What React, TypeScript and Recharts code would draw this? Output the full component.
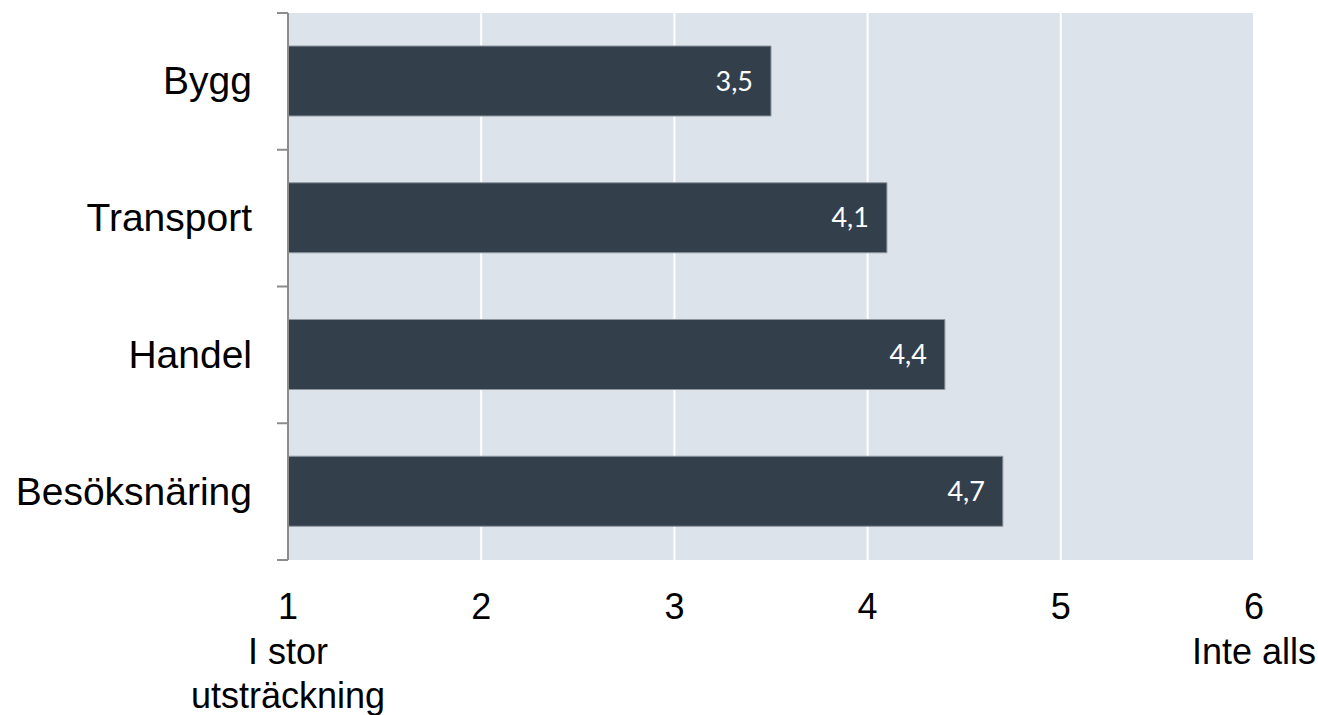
import React from "react";
import { BarChart, Bar, XAxis, YAxis, CartesianGrid, LabelList } from "recharts";

// Branscher och medelvärde (1 = I stor utsträckning, 6 = Inte alls)
const categories = ["Bygg", "Transport", "Handel", "Besöksnäring"];
const values = [3.5, 4.1, 4.4, 4.7];
const xTicks = [1, 2, 3, 4, 5, 6];
const xTickNotes: Record<number, string[]> = {
  1: ["I stor", "utsträckning"],
  6: ["Inte alls"],
};

const data = categories.map((name, i) => ({ name, value: values[i] }));

const FONT = "Arial, 'Liberation Sans', sans-serif";
const AXIS_GREY = "#8c8c8c";

const XTick = ({ x, y, payload }: any) => {
  const notes = xTickNotes[payload.value] ?? [];
  return (
    <g>
      <text x={x} y={y + 51} textAnchor="middle" fontSize={36} fontFamily={FONT} fill="#000">
        {payload.value}
      </text>
      {notes.map((line, i) => (
        <text key={i} x={x} y={y + 96 + i * 44} textAnchor="middle" fontSize={36} fontFamily={FONT} fill="#000">
          {line}
        </text>
      ))}
    </g>
  );
};

// category name plus tick marks on the band edges (half a band above/below)
const YTick = ({ x, y, payload, index, visibleTicksCount }: any) => {
  const half = payload.offset ?? 0;
  const last = index === (visibleTicksCount ?? categories.length) - 1;
  return (
    <g>
      <line x1={x - 11} x2={x} y1={y - half} y2={y - half} stroke={AXIS_GREY} strokeWidth={2} />
      {last && <line x1={x - 11} x2={x} y1={y + half} y2={y + half} stroke={AXIS_GREY} strokeWidth={2} />}
      <text x={x - 36} y={y} dy={13} textAnchor="end" fontSize={39} fontFamily={FONT} fill="#000">
        {payload.value}
      </text>
    </g>
  );
};

export default function App() {
  return (
    <div>
      <style>{`body{margin:0}`}</style>
      <BarChart
        width={1318}
        height={715}
        data={data}
        layout="vertical"
        margin={{ top: 13, right: 64, bottom: 0, left: 0 }}
      >
        <CartesianGrid horizontal={false} vertical stroke="#ffffff" strokeWidth={2} fill="#dce3ea" />
        <XAxis
          type="number"
          dataKey="value"
          domain={[1, 6]}
          ticks={xTicks}
          axisLine={false}
          tickLine={false}
          height={155}
          tick={<XTick />}
          interval={0}
        />
        <YAxis
          type="category"
          dataKey="name"
          width={288}
          interval={0}
          axisLine={{ stroke: AXIS_GREY, strokeWidth: 2 }}
          tickLine={false}
          tickSize={0}
          tickMargin={0}
          tick={<YTick />}
        />
        <Bar dataKey="value" fill="#343f4c" stroke="#8d969f" strokeWidth={1} barSize={70} isAnimationActive={false}>
          <LabelList
            dataKey="value"
            position="insideRight"
            offset={18}
            fill="#ffffff"
            fontSize={27}
            fontFamily="Lato, 'Open Sans', sans-serif"
            formatter={(v: any) => String(v).replace(".", ",")}
          />
        </Bar>
      </BarChart>
    </div>
  );
}
